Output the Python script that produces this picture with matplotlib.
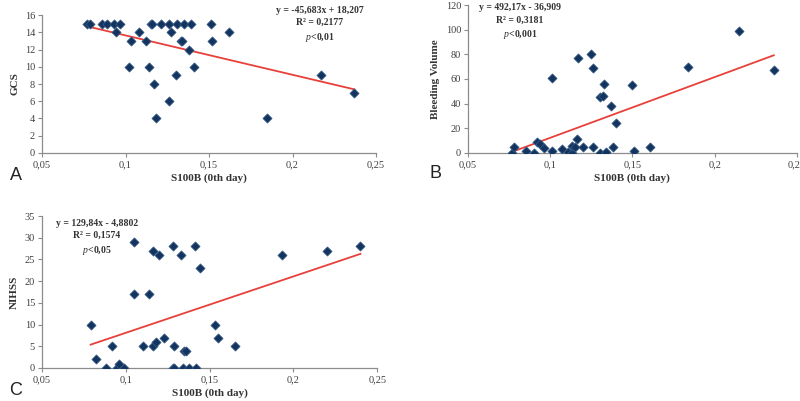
import matplotlib.pyplot as plt
import numpy as np

# panel A: GCS vs S100B
a_x = [0.077, 0.079, 0.086, 0.089, 0.093, 0.097, 0.0945, 0.108, 0.103, 0.102,
       0.112, 0.114, 0.115, 0.116, 0.121, 0.126, 0.131, 0.135, 0.139, 0.117,
       0.118, 0.127, 0.126, 0.130, 0.133, 0.134, 0.138, 0.141, 0.151, 0.152,
       0.162, 0.185, 0.217, 0.237]
a_y = [15, 15, 15, 15, 15, 15, 14, 14, 13, 10,
       13, 10, 15, 15, 15, 15, 15, 15, 15, 8,
       4, 14, 6, 9, 13, 13, 12, 10, 15, 13,
       14, 4, 9, 7]

# panel B: bleeding volume vs S100B
b_x = [0.077, 0.078, 0.085, 0.090, 0.092, 0.094, 0.096, 0.101, 0.101, 0.107,
       0.111, 0.113, 0.113, 0.116, 0.115, 0.117, 0.120, 0.125, 0.126, 0.126,
       0.130, 0.130, 0.132, 0.133, 0.134, 0.137, 0.138, 0.140, 0.150, 0.151,
       0.161, 0.184, 0.215, 0.236]
b_y = [0, 5, 2, 0, 9, 7, 4, 61, 2, 3,
       1, 0, 6, 11, 5, 77, 5, 80, 69, 5,
       0, 45, 46, 56, 1, 38, 5, 24, 55, 2,
       5, 70, 99, 67]

# panel C: NIHSS vs S100B
c_x = [0.079, 0.082, 0.088, 0.092, 0.095, 0.096, 0.099, 0.105, 0.105, 0.110,
       0.114, 0.116, 0.116, 0.118, 0.120, 0.123, 0.128, 0.129, 0.128, 0.129,
       0.133, 0.135, 0.136, 0.134, 0.138, 0.142, 0.141, 0.144, 0.153, 0.155,
       0.165, 0.193, 0.220, 0.240]
c_y = [10, 2, 0, 5, 0, 1, 0, 29, 17, 5,
       17, 27, 5, 6, 26, 7, 0, 0, 28, 5,
       26, 4, 4, 0, 0, 0, 28, 23, 10, 7,
       5, 26, 27, 28]

# trendline coefficients (slope, intercept) as printed on the chart
a_fit = (-45.683, 18.207)
b_fit = (492.17, -36.909)
c_fit = (129.84, -4.8802)

x_ticks = [0.05, 0.1, 0.15, 0.2, 0.25]
x_ticklabels = ['0,05', '0,1', '0,15', '0,2', '0,25']

serif = 'Liberation Serif'
dot_color = '#12345e'
axis_color = '#8c8c8c'

plt.rcParams['mathtext.fontset'] = 'custom'
plt.rcParams['mathtext.it'] = 'Liberation Serif:italic'
plt.rcParams['mathtext.rm'] = 'Liberation Serif'

fig = plt.figure(figsize=(8, 4.01), dpi=100)

panels = [
    # rect, x, y, fit, ylim, ystep, ylabel, letter, letter pos, eq text, eq pos
    ([0.0525, 0.6185, 0.4175, 0.344], a_x, a_y, a_fit, 16, 2, 'GCS', 'A', (0.012, 0.55),
     ['y = -45,683x + 18,207', 'R² = 0,2177', r'$\it{p}$<0,01'], (0.40, 0.985)),
    ([0.585, 0.6185, 0.411, 0.369], b_x, b_y, b_fit, 120, 20, 'Bleeding Volume', 'B', (0.537, 0.555),
     ['y = 492,17x - 36,909', 'R² = 0,3181', r'$\it{p}$<0,001'], (0.65, 0.992)),
    ([0.0525, 0.0823, 0.419, 0.379], c_x, c_y, c_fit, 35, 5, 'NIHSS', 'C', (0.012, 0.014),
     ['y = 129,84x - 4,8802', 'R² = 0,1574', r'$\it{p}$<0,05'], (0.121, 0.455)),
]

for rect, xs, ys, fit, ymax, ystep, ylabel, letter, lpos, eq, epos in panels:
    ax = fig.add_axes(rect)
    ax.scatter(xs, ys, marker='D', s=22, color=dot_color, edgecolors='#3a5f8a',
               linewidths=0.5, zorder=3)
    xf = np.array([min(xs), max(xs)])
    ax.plot(xf, fit[0] * xf + fit[1], color='#e8403a', lw=1.3, zorder=2)
    ax.set_xlim(0.05, 0.25)
    ax.set_ylim(0, ymax)
    ax.set_xticks(x_ticks)
    ax.set_xticklabels(x_ticklabels)
    ax.set_yticks(np.arange(0, ymax + 1, ystep))
    for s in ['top', 'right']:
        ax.spines[s].set_visible(False)
    for s in ['left', 'bottom']:
        ax.spines[s].set_color(axis_color)
        ax.spines[s].set_linewidth(0.9)
    ax.tick_params(colors=axis_color, length=3, width=0.8, labelsize=7.5,
                   labelcolor='#404040', pad=2)
    for lab in ax.get_xticklabels() + ax.get_yticklabels():
        lab.set_family(serif)
    ax.set_xlabel('S100B (0th day)', family=serif, fontweight='bold', fontsize=8,
                  color='#333333', labelpad=3)
    ax.set_ylabel(ylabel, family=serif, fontweight='bold', fontsize=8,
                  color='#333333', labelpad=4)
    fig.text(lpos[0], lpos[1], letter, family='Liberation Sans', fontsize=13,
             color='#222222')
    fig.text(epos[0], epos[1], '\n'.join(eq), family=serif, fontweight='bold',
             fontsize=7, color='#333333', ha='center', va='top', linespacing=1.45)

fig.savefig('out.png', dpi=100)
